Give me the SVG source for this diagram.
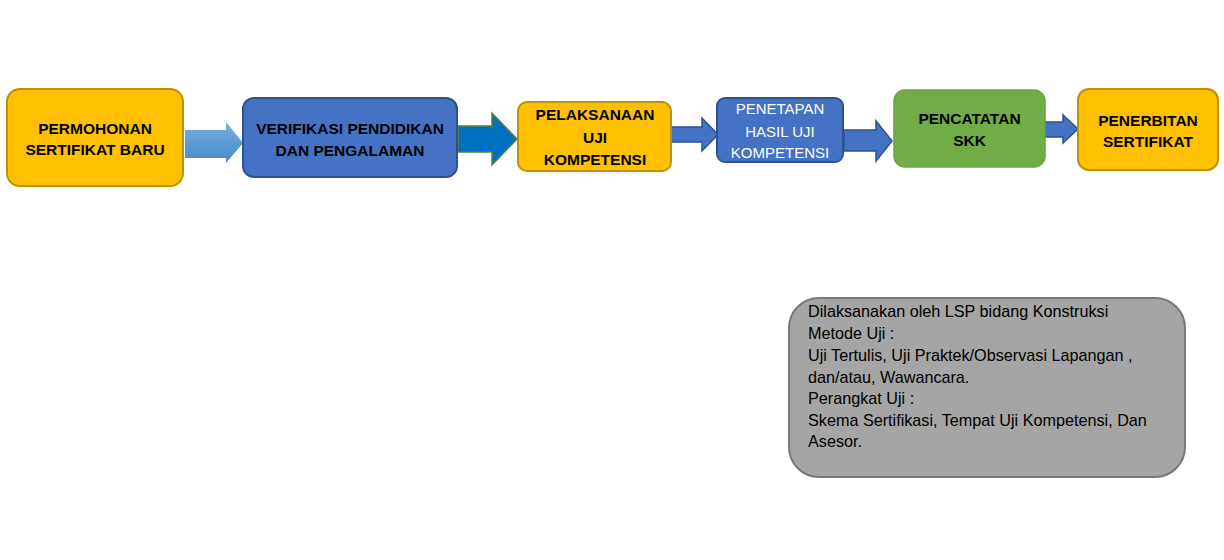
<svg xmlns="http://www.w3.org/2000/svg" width="1224" height="560" viewBox="0 0 1224 560">
  <defs>
    <linearGradient id="g1v" x1="0" y1="0" x2="0" y2="1">
      <stop offset="0" stop-color="#7FB2E5"/>
      <stop offset="0.5" stop-color="#5B9BD5"/>
      <stop offset="1" stop-color="#4A88C8"/>
    </linearGradient>
    <style>
      .gold { fill: #FFC000; stroke: #BF9000; stroke-width: 2; }
      .blue { fill: #4472C4; stroke: #2F528F; stroke-width: 2; }
      .green { fill: #70AD47; stroke: #6AA343; stroke-width: 1.5; }
      .grey { fill: #A5A5A5; stroke: #787878; stroke-width: 2; }
      .arr { fill: #4472C4; stroke: #2F528F; stroke-width: 1.5; }
      .t { font-family: "Liberation Sans", Arial, sans-serif; font-size: 15.5px; font-weight: bold; fill: #000; text-anchor: middle; }
      .tw { font-family: "Liberation Sans", Arial, sans-serif; font-size: 15px; fill: #FFFFFF; text-anchor: middle; }
      .note { font-family: "Liberation Sans", Arial, sans-serif; font-size: 16.2px; fill: #000; }
    </style>
  </defs>

  <g id="connectors">
    <polygon points="185,130 226,130 226,122 243,143 226,163 226,158 185,158" fill="url(#g1v)"/>
    <polygon points="458,126 492,126 492,113 517,139 492,165 492,152 458,152" fill="#0070C0" stroke="#548235" stroke-width="1.5"/>
    <polygon class="arr" points="671,127 702,127 702,118 718,134.5 702,151 702,142 671,142"/>
    <polygon class="arr" points="844,130 876,130 876,121 892,141 876,161 876,151 844,151"/>
    <polygon class="arr" points="1045,122 1063,122 1063,115 1078,129 1063,143 1063,137 1045,137"/>
  </g>

  <g id="node-permohonan">
    <rect class="gold" x="7" y="89" width="176" height="97" rx="13"/>
    <text class="t" x="95" y="134">PERMOHONAN</text>
    <text class="t" x="95" y="155">SERTIFIKAT BARU</text>
  </g>

  <g id="node-verifikasi">
    <rect class="blue" x="243" y="98" width="214" height="79" rx="11"/>
    <text class="t" x="350" y="134">VERIFIKASI PENDIDIKAN</text>
    <text class="t" x="350" y="155.5">DAN PENGALAMAN</text>
  </g>

  <g id="node-pelaksanaan">
    <rect class="gold" x="518" y="102" width="153" height="69" rx="9"/>
    <text class="t" x="595" y="120">PELAKSANAAN</text>
    <text class="t" x="595" y="142.5">UJI</text>
    <text class="t" x="595" y="165">KOMPETENSI</text>
  </g>

  <g id="node-penetapan">
    <rect class="blue" x="717" y="98" width="126" height="64" rx="8"/>
    <text class="tw" x="780" y="114">PENETAPAN</text>
    <text class="tw" x="780" y="136.5">HASIL UJI</text>
    <text class="tw" x="780" y="157.5">KOMPETENSI</text>
  </g>

  <g id="node-pencatatan">
    <rect class="green" x="894" y="90" width="151" height="77" rx="11"/>
    <text class="t" x="969.5" y="124">PENCATATAN</text>
    <text class="t" x="969.5" y="145.5">SKK</text>
  </g>

  <g id="node-penerbitan">
    <rect class="gold" x="1078" y="89" width="140" height="81" rx="11"/>
    <text class="t" x="1148" y="125.5">PENERBITAN</text>
    <text class="t" x="1148" y="147">SERTIFIKAT</text>
  </g>

  <g id="node-keterangan">
    <rect class="grey" x="789" y="298" width="396" height="179" rx="30"/>
    <text class="note" x="808" y="317">Dilaksanakan oleh LSP bidang Konstruksi</text>
    <text class="note" x="808" y="339">Metode Uji :</text>
    <text class="note" x="808" y="361">Uji Tertulis, Uji Praktek/Observasi Lapangan ,</text>
    <text class="note" x="808" y="383">dan/atau, Wawancara.</text>
    <text class="note" x="808" y="404">Perangkat Uji :</text>
    <text class="note" x="808" y="426">Skema Sertifikasi, Tempat Uji Kompetensi, Dan</text>
    <text class="note" x="808" y="447">Asesor.</text>
  </g>
</svg>
